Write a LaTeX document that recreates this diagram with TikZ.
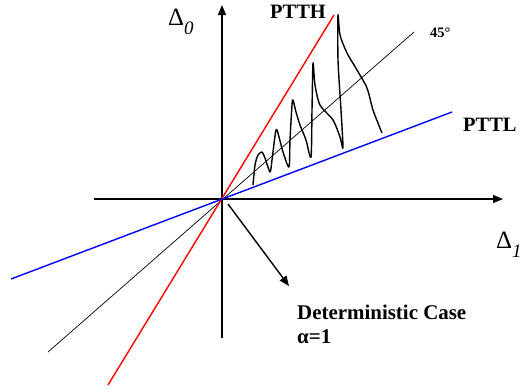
\documentclass[tikz,border=0pt]{standalone}
\usepackage{fontspec}
\setmainfont{Liberation Serif}
\usetikzlibrary{arrows.meta}
\begin{document}
\begin{tikzpicture}[x=1bp,y=-1bp,
  axis/.style={line width=1.4bp,-{Triangle[length=10bp,width=8bp]}},
  lbl/.style={inner sep=0pt,anchor=base west},
  big/.style={font=\fontsize{20.5}{22}\selectfont\bfseries},
  greek/.style={font=\fontsize{25}{27}\selectfont}]
\useasboundingbox (0,0) rectangle (521,391);
\coordinate (O) at (222,199);
% axes
\coordinate (yb) at (222,338);
\coordinate (yt) at (222,5);
\coordinate (xl) at (94,199);
\coordinate (xr) at (503,199);
\draw[axis] (yb) -- (yt);
\draw[axis] (xl) -- (xr);
% lines through origin
\coordinate (r1) at (108,385);
\coordinate (r2) at (334,15);
\coordinate (b1) at (11,279);
\coordinate (b2) at (452,112);
\coordinate (k1) at (48,352);
\coordinate (k2) at (414,32);
\draw[black,line width=0.7bp] (k1) -- (k2);
\draw[red,line width=1.4bp] (r1) -- (r2);
\draw[blue,line width=1.4bp] (b1) -- (b2);
% arrow to deterministic case
\coordinate (a1) at (228,204);
\coordinate (a2) at (289,286);
\draw[line width=1.4bp,-{Triangle[length=10bp,width=8bp]}] (a1) -- (a2);
% wavy curve
\draw[line width=1.4bp,line join=round] plot[smooth,tension=0.45] coordinates {
(253,185) (255,165) (258,155) (262,152) (265,158) (270,172) (272,160) (276,130)
(279,137) (283,152) (289,167) (290,140) (292,105) (293,100) (296,112) (300,125)
(306,140) (311,157) (312,110) (313,63) (315,85) (320,105) (333,120) (340,137)
(343,148) (341,110) (338,60) (338,15) (340,35) (347,53) (357,70) (367,88)
(373,110) (382,133)};
% labels
\node[lbl,greek] (d0) at (168,25) {Δ\raisebox{-9bp}{\fontsize{19}{20}\selectfont\itshape 0}};
\node[lbl,greek] (d1) at (496,248) {Δ\raisebox{-9bp}{\fontsize{19}{20}\selectfont\itshape 1}};
\node[lbl,big] (ptth) at (270,18) {PTTH};
\node[lbl,big] (pttl) at (463,131) {PTTL};
\node[lbl,font=\fontsize{14.5}{16}\selectfont\bfseries] (deg) at (430,37) {45°};
\node[lbl,font=\fontsize{21}{22}\selectfont\bfseries] (det) at (297,319) {Deterministic Case};
\node[lbl,font=\fontsize{21}{22}\selectfont\bfseries] (alpha) at (297,343) {α=1};
\end{tikzpicture}
\end{document}
